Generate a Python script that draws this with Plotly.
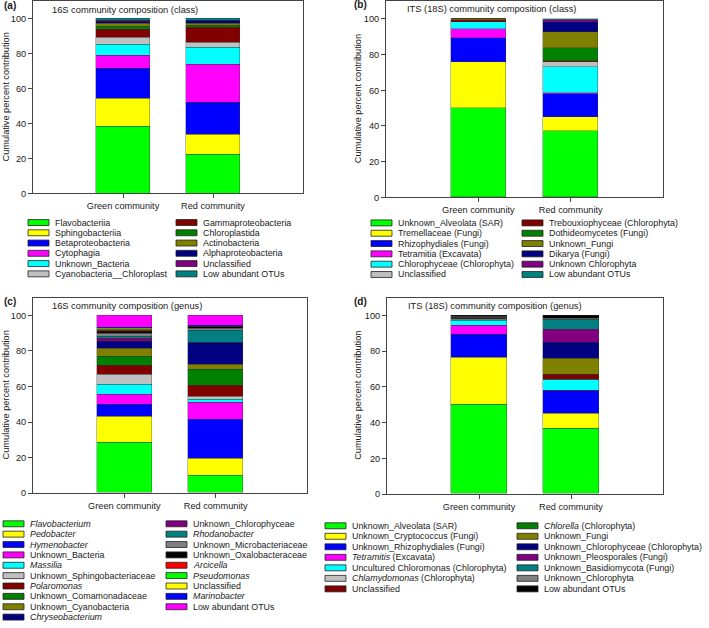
import plotly.graph_objects as go

communities = ["Green community", "Red community"]

# ---------------- (a) 16S class ----------------
a_names = ["Flavobacteriia", "Sphingobacteriia", "Betaproteobacteria", "Cytophagia",
           "Unknown_Bacteria", "Cyanobacteria__Chloroplast", "Gammaproteobacteria",
           "Chloroplastida", "Actinobacteria", "Alphaproteobacteria", "Unclassified",
           "Low abundant OTUs"]
a_green = [38.6, 15.8, 17.2, 7.6, 6.2, 4.2, 4.2, 2.0, 1.6, 1.3, 0.3, 1.0]
a_red = [22.5, 11.5, 18.0, 22.2, 9.5, 3.0, 8.6, 1.0, 1.0, 1.6, 0.3, 0.8]

# ---------------- (b) ITS class ----------------
b_names = ["Unknown_Alveolata (SAR)", "Tremellaceae (Fungi)", "Rhizophydiales (Fungi)",
           "Tetramitia (Excavata)", "Chlorophyceae (Chlorophyta)", "Unclassified",
           "Trebouxiophyceae (Chlorophyta)", "Dothideomycetes (Fungi)", "Unknown_Fungi",
           "Dikarya (Fungi)", "Unknown Chlorophyta", "Low abundant OTUs"]
b_green = [50.0, 26.1, 13.0, 5.2, 3.7, 0.5, 0.8, 0.2, 0.2, 0.1, 0.1, 0.1]
b_red = [37.0, 8.2, 12.8, 0.3, 15.0, 2.8, 0.2, 7.2, 9.3, 5.7, 0.9, 0.6]

# ---------------- (c) 16S genus ----------------
c_names = ["Flavobacterium", "Pedobacter", "Hymenobacter", "Unknown_Bacteria", "Massilia",
           "Unknown_Sphingobacteriaceae", "Polaromonas", "Unknown_Comamonadaceae",
           "Unknown_Cyanobacteria", "Chryseobacterium", "Unknown_Chlorophyceae",
           "Rhodanobacter", "Unknown_Microbacteriaceae", "Unknown_Oxalobacteraceae",
           "Arcicella", "Pseudomonas", "Unclassified", "Marinobacter", "Low abundant OTUs"]
c_italic = {"Flavobacterium", "Pedobacter", "Hymenobacter", "Massilia", "Polaromonas",
            "Chryseobacterium", "Rhodanobacter", "Arcicella", "Pseudomonas", "Marinobacter"}
c_green = [28.3, 14.9, 6.3, 6.0, 5.6, 5.6, 5.2, 5.0, 4.3, 4.2, 1.4, 1.5, 1.6, 1.0,
           0.5, 0.4, 0.8, 0.4, 7.0]
c_red = [9.9, 9.3, 22.1, 9.7, 1.7, 1.7, 6.1, 9.0, 2.6, 12.4, 0.2, 6.7, 1.0, 1.0,
         0.1, 0.1, 0.2, 0.2, 6.0]

# ---------------- (d) ITS genus ----------------
d_names = ["Unknown_Alveolata (SAR)", "Unknown_Cryptococcus (Fungi)",
           "Unknown_Rhizophydiales (Fungi)", "Tetramitis (Excavata)",
           "Uncultured Chloromonas (Chlorophyta)", "Chlamydomonas (Chlorophyta)",
           "Unclassified", "Chlorella (Chlorophyta)", "Unknown_Fungi",
           "Unknown_Chlorophyceae (Chlorophyta)", "Unknown_Pleosporales (Fungi)",
           "Unknown_Basidiomycota (Fungi)", "Unknown_Chlorophyta", "Low abundant OTUs"]
d_italic = {"Tetramitis", "Chlamydomonas", "Chlorella"}
d_green = [50.0, 26.3, 12.8, 5.3, 2.5, 0.9, 0.3, 0.3, 0.3, 0.1, 0.1, 0.2, 0.2, 0.7]
d_red = [36.7, 8.3, 13.0, 0.1, 5.8, 0.1, 2.9, 0.1, 8.7, 9.3, 7.2, 5.4, 0.7, 1.7]

palette = ["#00FF00", "#FFFF00", "#0000FF", "#FF00FF", "#00FFFF", "#C0C0C0", "#800000",
           "#008000", "#808000", "#000080", "#800080", "#008080", "#808080", "#000000",
           "#FF0000", "#00FF00", "#FFFF00", "#0000FF", "#FF00FF"]

panel_titles = ["16S community composition (class)", "ITS (18S) community composition (class)",
                "16S community composition (genus)", "ITS (18S) community composition (genus)"]
panel_letters = ["(a)", "(b)", "(c)", "(d)"]

W, H = 709, 628
FONT = "Liberation Sans, Arial, sans-serif"


def PX(x):
    return x / W


def PY(y):
    return 1 - y / H


def fmt(name, italic):
    for term in italic:
        if name.startswith(term):
            return "<i>" + term + "</i>" + name[len(term):]
    return name


# pixel geometry: (x_left, x_right, y_zero_px, px_per_unit)
geo = [(33, 303, 195, 1.76), (386, 663, 199, 1.80), (33, 307, 497, 1.79), (387, 663, 498, 1.80)]
YMAX = 110

panels = [(a_names, a_green, a_red, set()), (b_names, b_green, b_red, set()),
          (c_names, c_green, c_red, c_italic), (d_names, d_green, d_red, d_italic)]

fig = go.Figure()
for p, (names, g, r, ital) in enumerate(panels):
    xa = "x" if p == 0 else f"x{p+1}"
    ya = "y" if p == 0 else f"y{p+1}"
    for j, nm in enumerate(names):
        fig.add_trace(go.Bar(
            x=communities, y=[g[j], r[j]], name=nm, width=0.6,
            marker=dict(color=palette[j], line=dict(color="rgba(50,50,50,0.55)", width=0.6)),
            xaxis=xa, yaxis=ya, showlegend=False))

layout = dict(width=W, height=H, margin=dict(l=0, r=0, t=0, b=0), barmode="stack",
              paper_bgcolor="white", plot_bgcolor="white",
              font=dict(family=FONT, size=9.2, color="#1a1a1a"), bargap=0)
annotations = []
shapes = []
for p, (xl, xr, y0, s) in enumerate(geo):
    sfx = "" if p == 0 else str(p + 1)
    ytop = y0 - YMAX * s
    layout["xaxis" + sfx] = dict(domain=[PX(xl), PX(xr)], range=[-1, 2], showline=True,
                                 mirror=True, linecolor="#444", linewidth=1, ticks="outside",
                                 ticklen=4, tickcolor="#444", tickfont=dict(size=9.2),
                                 anchor="y" + sfx, showgrid=False, fixedrange=True)
    layout["yaxis" + sfx] = dict(domain=[PY(y0), PY(ytop)], range=[0, YMAX],
                                 tickvals=[0, 20, 40, 60, 80, 100], showline=True, mirror=True,
                                 linecolor="#444", linewidth=1, ticks="outside", ticklen=4,
                                 tickcolor="#444", tickfont=dict(size=9.2), showgrid=False,
                                 zeroline=False, anchor="x" + sfx, fixedrange=True)
    # inner title
    annotations.append(dict(xref="paper", yref="paper", x=PX(xl + (17 if p % 2 == 0 else 19)),
                            y=PY(ytop + 8.5), text=panel_titles[p], showarrow=False,
                            xanchor="left", yanchor="middle", font=dict(size=9.3)))
    # y title
    annotations.append(dict(xref="paper", yref="paper",
                            x=PX(6 if p % 2 == 0 else 358), y=PY((y0 + ytop) / 2),
                            text="Cumulative percent contribution", textangle=-90,
                            showarrow=False, xanchor="center", yanchor="middle",
                            font=dict(size=9.2)))
    # panel letter
    annotations.append(dict(xref="paper", yref="paper",
                            x=PX(2 if p % 2 == 0 else 352), y=PY(ytop + 4),
                            text="<b>" + panel_letters[p] + "</b>", showarrow=False,
                            xanchor="left", yanchor="middle", font=dict(size=10)))

# legends: (swatch_x_col1, swatch_x_col2, first_row_y, row_step, rows_in_col1)
leg = [(28, 176, 224.3, 10.35, 6), (371, 522, 224.7, 10.4, 6),
       (3, 166, 528, 10.45, 10), (325, 517, 530, 10.6, 7)]
for p, (names, g, r, ital) in enumerate(panels):
    cx1, cx2, ry0, step, nrow = leg[p]
    for j, nm in enumerate(names):
        col = 0 if j < nrow else 1
        row = j if j < nrow else j - nrow
        sx = cx1 if col == 0 else cx2
        cy = ry0 + row * step
        shapes.append(dict(type="rect", xref="paper", yref="paper", x0=PX(sx), x1=PX(sx + 21),
                           y0=PY(cy + 3), y1=PY(cy - 3), fillcolor=palette[j],
                           line=dict(color="#222", width=0.8)))
        annotations.append(dict(xref="paper", yref="paper", x=PX(sx + 25), y=PY(cy),
                                text=fmt(nm, ital), showarrow=False, xanchor="left",
                                yanchor="middle", font=dict(size=8.9)))

layout["annotations"] = annotations
layout["shapes"] = shapes
fig.update_layout(**layout)
fig.write_html("out.html", config={"displayModeBar": False},
               post_script="document.body.style.margin='0';document.body.style.padding='0';"
                           "document.body.style.overflow='hidden';")
